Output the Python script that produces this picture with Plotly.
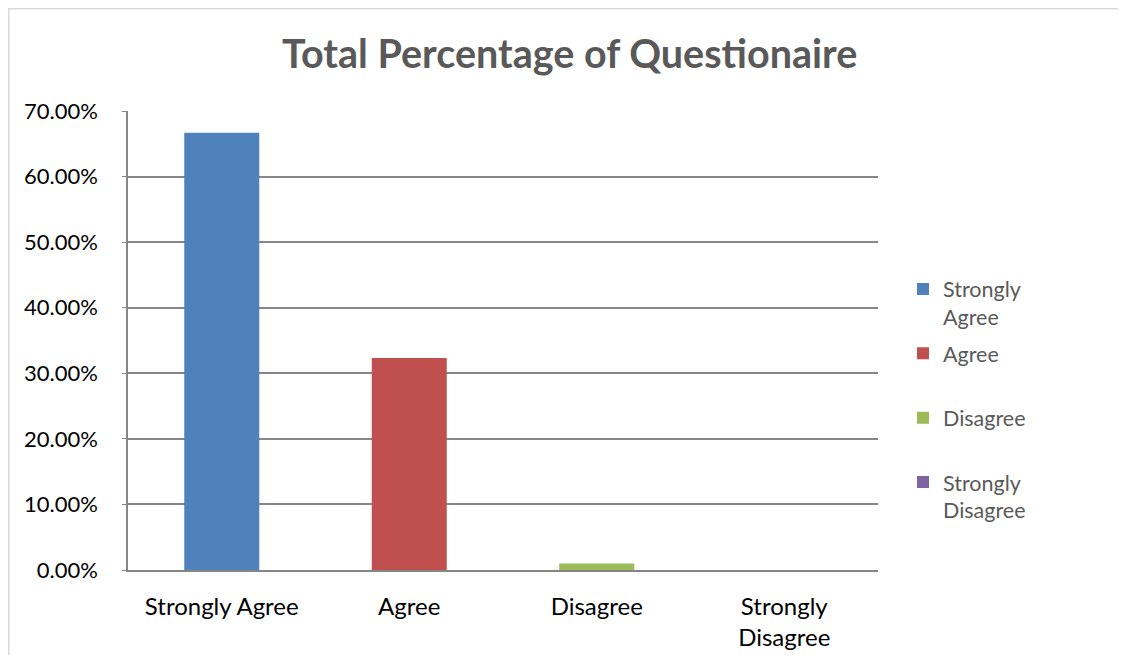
import plotly.graph_objects as go

categories = ["Strongly Agree", "Agree", "Disagree", "Strongly Disagree"]
tick_labels = ["Strongly Agree", "Agree", "Disagree", "Strongly<br>Disagree"]
legend_labels = ["Strongly<br>Agree", "Agree<br> ", "Disagree<br> ", "Strongly<br>Disagree"]
values = [0.6667, 0.3233, 0.0100, 0.0]
colors = ["#4F81BD", "#C0504D", "#9BBB59", "#8064A2"]

FONT = "Lato"
W, H = 1110, 647
L, R, T, B = 120, 240, 103, 85
PW, PH = W - L - R, H - T - B

fig = go.Figure()
for i, cat in enumerate(categories):
    fig.add_trace(go.Bar(
        x=[cat], y=[values[i]], name=legend_labels[i],
        marker=dict(color=colors[i], line=dict(width=0)),
        width=0.4, legendgroup=str(i),
    ))

fig.update_layout(
    width=W, height=H,
    paper_bgcolor="white", plot_bgcolor="white",
    barmode="overlay",
    margin=dict(l=L, r=R, t=T, b=B, autoexpand=False),
    title=dict(text="<b>Total Percentage of Questionaire</b>", x=0.506, xanchor="center",
               y=0.928, yanchor="middle",
               font=dict(family=FONT, size=39.5, color="#595959")),
    font=dict(family=FONT, size=20, color="#000000"),
    legend=dict(x=(903 - 8 - L) / PW, xanchor="left", y=0.657, yanchor="top",
                font=dict(family=FONT, size=21.5, color="#595959"),
                tracegroupgap=5.5, itemsizing="constant", valign="top"),
    showlegend=True,
)
fig.update_xaxes(
    categoryorder="array", categoryarray=categories,
    tickvals=categories, ticktext=tick_labels,
    showline=True, linecolor="#868686", linewidth=2,
    ticks="", ticklabelstandoff=14, tickfont=dict(size=24, color="#000000"),
    showgrid=False,
)
fig.update_yaxes(
    range=[0, 0.7], dtick=0.1, tickformat=".2%",
    showline=True, linecolor="#868686", linewidth=1.5,
    ticks="outside", ticklen=4, tickcolor="#868686",
    ticklabelstandoff=20, tickfont=dict(size=22, color="#000000"),
    showgrid=True, gridcolor="#868686", gridwidth=2, zeroline=False,
)
fig.add_shape(type="rect", xref="paper", yref="paper",
              x0=(-L + 0.5) / PW, x1=(W + 20 - L) / PW,
              y0=-(B + 30) / PH, y1=1 + (T - 0.5) / PH,
              line=dict(color="#D9D9D9", width=2), layer="below")

fig.write_html("out.html")
